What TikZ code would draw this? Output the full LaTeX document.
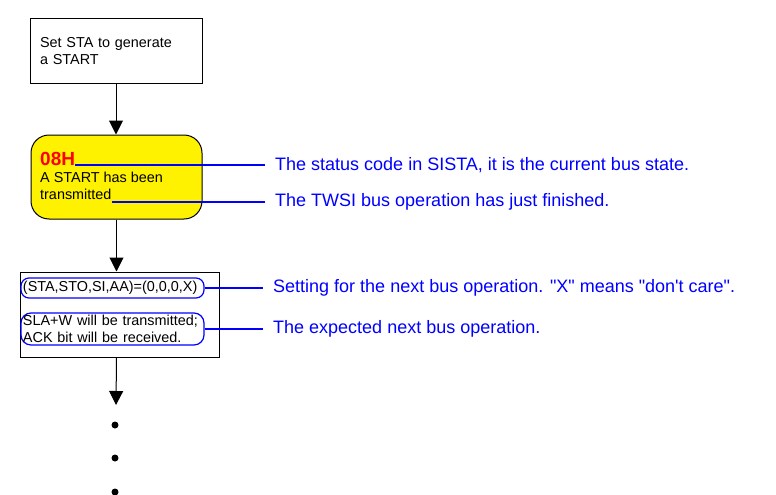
\documentclass[tikz,border=0pt]{standalone}
\usepackage{fontspec}
\setmainfont{Liberation Sans}[Ligatures=TeXOff]
\usetikzlibrary{positioning,arrows.meta}
\usepackage{xcolor}

\begin{document}
\begin{tikzpicture}[x=1pt,y=-1pt,>={Triangle[width=14pt,length=14pt]},
  box/.style={draw,line width=1pt,font=\fontsize{14.4}{17}\selectfont},
  field/.style={box,draw=blue,line width=1.2pt,minimum width=183,inner sep=1pt,text width=179,align=left},
  tag/.style={draw=blue,line width=1.2pt},
  note/.style={anchor=west,inner sep=0pt,text=blue,font=\fontsize{18}{21}\selectfont},
  txt/.style={anchor=base west,inner sep=0pt,font=\fontsize{14.4}{17}\selectfont},
  dot/.style={circle,fill,inner sep=0pt,minimum size=7pt}]
\useasboundingbox (0,0) rectangle (776,495);
\node[box,text width=152,align=left,inner sep=10pt,minimum height=64] (s0) at (116,51) {Set STA to generate\\a START};
\node[box,fill=yellow,rounded corners=18pt,minimum width=171,minimum height=84] (s1) at (116.5,177) {};
\node[txt,text=red,font=\bfseries\fontsize{19}{21}\selectfont] (code) at (40,165) {08H};
\node[txt] (ev1) at (40,182) {A START has been};
\node[txt] (ev2) at (40,199) {transmitted};
\node[box,minimum width=199,minimum height=85] (s2) at (119.5,314.5) {};
\node[field,rounded corners=8pt,minimum height=20] (set) at (112.5,288) {(STA,STO,SI,AA)=(0,0,0,X)};
\node[field,rounded corners=10pt,minimum height=32] (exp) at (112.5,329) {SLA+W will be transmitted;\\ACK bit will be received.};
% notes on the right
\node[note] (n1) at (275,165) {The status code in SISTA, it is the current bus state.};
\node[note] (n2) at (275,202) {The TWSI bus operation has just finished.};
\node[note] (n3) at (273,288) {Setting for the next bus operation. "X" means "don't care".};
\node[note] (n4) at (273,329) {The expected next bus operation.};
\draw[tag] (code.base east) -- ([xshift=-10pt]n1.west);
\draw[tag] ([yshift=-3pt]ev2.base east) -- ([xshift=-10pt]n2.west);
\draw[tag] (set.east) -- ([xshift=-10pt]n3.west);
\draw[tag] (exp.east) -- ([xshift=-10pt]n4.west);
% flow
\coordinate (end) at (116,405);
\draw[->,line width=1pt] (s0.south) -- (s0.south |- s1.north);
\draw[->,line width=1pt] (s1.south) -- (s1.south |- s2.north);
\draw[->,line width=1pt] (s1.south |- s2.south) -- (end);
\node[dot] (d1) at (115,425) {};
\node[dot] (d2) at (115,458) {};
\node[dot] (d3) at (115,492) {};
\end{tikzpicture}
\end{document}
